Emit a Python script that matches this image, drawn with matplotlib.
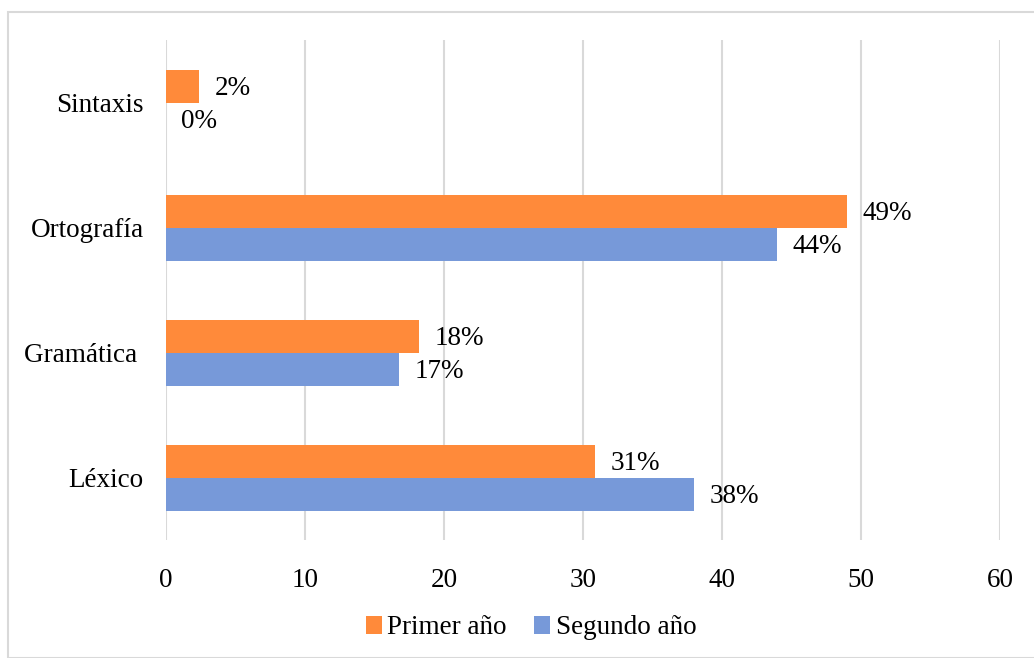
import matplotlib.pyplot as plt
import numpy as np
from matplotlib.patches import Rectangle

categories = ['Léxico', 'Gramática ', 'Ortografía', 'Sintaxis']
primer = [30.9, 18.2, 49.0, 2.4]
segundo = [38.0, 16.8, 44.0, 0.0]
primer_labels = ['31%', '18%', '49%', '2%']
segundo_labels = ['38%', '17%', '44%', '0%']

orange = '#FF8A3A'
blue = '#7799D9'

plt.rcParams['font.family'] = ['Liberation Serif', 'DejaVu Serif']
fs = 19.5

fig = plt.figure(figsize=(10.34, 6.58), dpi=100)
ax = fig.add_axes([0.1605, 0.1793, 0.8065, 0.7597])

# light grey frame round the chart
fig.patches.append(Rectangle((0.008, 0.0), 1.2, 0.982, transform=fig.transFigure,
                             fill=False, edgecolor='#d9d9d9', linewidth=1.5))

y = np.arange(len(categories))
h = 0.264
ax.barh(y + h / 2, primer, height=h, color=orange, label='Primer año', zorder=3)
ax.barh(y - h / 2, segundo, height=h, color=blue, label='Segundo año', zorder=3)

for i in range(len(categories)):
    ax.text(primer[i] + 1.1, y[i] + h / 2 - 0.02, primer_labels[i], fontsize=fs,
            va='center', ha='left')
    ax.text(segundo[i] + 1.1, y[i] - h / 2 - 0.02, segundo_labels[i], fontsize=fs,
            va='center', ha='left')

ax.set_xlim(0, 60)
ax.set_ylim(-0.5, 3.5)
ax.set_xticks(range(0, 61, 10))
ax.set_yticks(y)
ax.set_yticklabels(categories)
ax.tick_params(axis='both', length=0, labelsize=fs)
ax.tick_params(axis='x', pad=20)
ax.tick_params(axis='y', pad=16)
ax.grid(axis='x', color='#d9d9d9', linewidth=1.5, zorder=0)
for s in ax.spines.values():
    s.set_visible(False)

ax.legend(loc='center', bbox_to_anchor=(0.4377, -0.176), ncol=2, frameon=False,
          fontsize=fs, handlelength=0.6, handleheight=0.6, handletextpad=0.2,
          columnspacing=1.0)

fig.savefig('out.png', dpi=100)
